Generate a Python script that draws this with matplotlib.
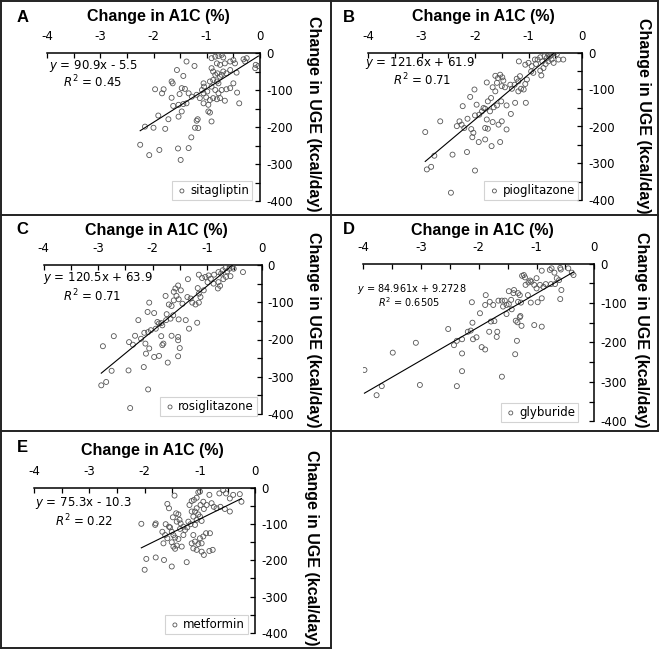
import numpy as np
import matplotlib.pyplot as plt
from matplotlib.lines import Line2D
from matplotlib.ticker import MultipleLocator

plt.rcParams["axes.unicode_minus"] = False
plt.rcParams["mathtext.fontset"] = "dejavusans"
plt.rcParams["font.family"] = "DejaVu Sans"

# =========================
# DATA
# =========================
sita_x = [-1.38, -1.23, -1.56, -1.44, -1.66, -1.64, -1.97, -1.81, -1.84, -1.47, -1.41, -1.51, -1.66,
          -1.34, -1.28, -1.19, -1.13, -1.06, -1.05, -1.09, -1.63, -1.53, -1.44, -1.38, -1.47, -1.53,
          -1.72, -1.91, -2.16, -2.00, -1.78, -2.25, -2.08, -1.89, -1.54, -1.34, -1.49, -1.29, -1.22,
          -1.16, -1.19, -1.17, -0.97, -0.94, -0.91, -0.97, -0.94, -1.06, -1.01, -0.88, -0.81, -0.75,
          -0.66, -0.78, -0.72, -0.63, -0.56, -0.50, -0.43, -0.39, -0.91, -0.84, -0.78, -0.72, -0.69,
          -0.81, -0.75, -0.66, -0.56, -0.50, -0.47, -0.31, -0.25, -0.28, -0.09, -0.08, -0.03, -0.91,
          -0.88, -0.84, -0.80, -0.75, -0.72, -0.69, -0.63, -0.56, -0.44, -0.88, -0.81, -0.78, -0.94,
          -0.91, -1.06, -0.99, -0.84]
sita_y = [-23, -35, -46, -62, -77, -82, -98, -98, -109, -95, -97, -111, -121,
          -109, -118, -113, -122, -82, -91, -100, -143, -140, -138, -136, -158, -172,
          -179, -169, -199, -202, -205, -248, -276, -262, -258, -257, -289, -228, -202,
          -203, -183, -179, -158, -161, -185, -140, -127, -136, -120, -122, -125, -122,
          -129, -109, -100, -98, -95, -82, -107, -136, -14, -10, -8, -5, -12,
          -28, -32, -28, -23, -19, -28, -17, -14, -23, -41, -32, -35, -41,
          -50, -59, -55, -64, -59, -50, -55, -46, -53, -73, -77, -82, -77,
          -91, -109, -104, -100]

pio_x = [-2.93, -2.65, -2.90, -2.82, -2.76, -2.42, -2.15, -2.00, -2.45, -2.23, -2.09, -2.01, -1.97,
         -1.78, -1.76, -1.67, -1.62, -1.70, -1.84, -2.34, -2.29, -2.25, -2.20, -2.14, -2.07, -2.03,
         -2.05, -1.93, -1.81, -1.81, -1.76, -1.78, -1.67, -1.56, -1.50, -1.41, -1.53, -1.69, -2.00,
         -1.92, -1.87, -1.81, -1.72, -1.65, -1.59, -1.51, -1.41, -1.33, -1.25, -1.05, -1.62, -1.57,
         -1.53, -1.49, -1.47, -1.59, -1.50, -1.44, -1.34, -1.31, -1.26, -1.19, -1.14, -1.09, -1.22,
         -1.16, -1.19, -1.06, -1.03, -1.18, -1.06, -1.00, -0.94, -0.86, -0.95, -0.91, -0.78, -0.76,
         -0.72, -0.68, -0.63, -0.74, -0.83, -0.66, -0.60, -0.57, -0.52, -0.47, -0.64, -0.70, -0.78,
         -0.88, -0.44, -0.35, -0.57, -0.53]
pio_y = [-215, -186, -316, -309, -279, -276, -269, -319, -379, -145, -120, -100, -141,
         -81, -132, -94, -105, -123, -150, -199, -186, -195, -204, -179, -207, -217,
         -229, -242, -235, -204, -206, -181, -188, -195, -186, -208, -242, -253, -170,
         -168, -159, -152, -159, -148, -143, -132, -143, -166, -136, -136, -63, -69,
         -60, -67, -76, -82, -91, -94, -87, -98, -87, -105, -98, -100, -71,
         -64, -78, -85, -73, -24, -33, -28, -37, -31, -51, -55, -49, -62,
         -42, -31, -24, -24, -19, -15, -10, -6, -1, -4, -4, -10, -13,
         -19, -19, -19, -19, -28]

rosi_x = [-2.91, -2.71, -2.94, -2.85, -2.75, -2.44, -2.16, -2.08, -2.41, -2.26, -2.09, -2.06, -1.97,
          -1.76, -1.74, -1.70, -1.65, -1.84, -1.91, -2.43, -2.36, -2.32, -2.21, -2.15, -2.13, -2.06,
          -2.12, -1.97, -1.88, -1.80, -1.82, -1.84, -1.65, -1.53, -1.53, -1.50, -1.53, -1.72, -2.08,
          -2.03, -1.94, -1.88, -1.82, -1.75, -1.67, -1.62, -1.52, -1.39, -1.33, -1.18, -1.61, -1.58,
          -1.53, -1.48, -1.56, -1.52, -1.61, -1.45, -1.36, -1.30, -1.27, -1.21, -1.15, -1.15, -1.17,
          -1.12, -1.06, -1.35, -1.15, -1.09, -1.03, -0.99, -0.93, -0.88, -0.79, -0.80, -0.76, -0.70,
          -0.65, -0.87, -0.79, -0.71, -0.63, -0.59, -0.54, -0.51, -0.66, -0.74, -0.57, -0.34, -0.97]
rosi_y = [-218, -191, -323, -314, -284, -283, -274, -334, -384, -148, -126, -101, -129,
          -83, -132, -106, -110, -156, -153, -207, -214, -190, -198, -182, -211, -224,
          -238, -247, -244, -211, -215, -191, -190, -193, -202, -223, -245, -262, -180,
          -175, -171, -157, -162, -148, -144, -135, -146, -148, -171, -155, -72, -63,
          -55, -68, -83, -92, -95, -104, -86, -90, -101, -106, -101, -77, -62,
          -86, -68, -38, -26, -35, -32, -46, -37, -50, -46, -63, -56, -38,
          -32, -26, -19, -14, -17, -10, -5, -10, -8, -23, -30, -19, -28]

gly_x = [-3.98, -3.68, -3.77, -3.49, -3.09, -3.02, -2.53, -2.38, -2.29, -2.29, -1.60, -1.37, -2.43,
         -2.38, -2.29, -2.19, -2.14, -2.10, -2.04, -2.11, -1.98, -1.95, -1.89, -2.12, -1.88, -1.89,
         -1.81, -1.79, -1.73, -1.82, -1.69, -1.68, -1.75, -1.66, -1.60, -1.55, -1.58, -1.52, -1.48,
         -1.43, -1.52, -1.48, -1.44, -1.40, -1.39, -1.32, -1.29, -1.32, -1.27, -1.36, -1.33, -1.29,
         -1.28, -1.26, -1.34, -1.25, -1.22, -1.20, -1.19, -1.14, -1.11, -1.09, -1.04, -1.00, -1.15,
         -1.10, -0.98, -0.91, -1.04, -0.91, -0.91, -0.77, -0.69, -0.65, -0.61, -0.58, -0.57, -0.59,
         -0.68, -0.75, -0.84, -0.88, -0.94, -1.00, -0.39, -0.36, -0.59, -0.74, -0.45]
gly_y = [-270, -311, -334, -226, -201, -308, -166, -311, -273, -228, -287, -230, -207,
         -196, -192, -173, -170, -192, -187, -150, -126, -212, -218, -98, -80, -105,
         -97, -147, -146, -173, -186, -173, -105, -94, -94, -94, -109, -105, -103,
         -116, -128, -70, -92, -75, -67, -75, -80, -97, -99, -145, -149, -136,
         -133, -158, -196, -31, -29, -35, -54, -48, -43, -46, -54, -63, -80,
         -99, -98, -88, -156, -160, -18, -16, -23, -37, -42, -15, -67, -90,
         -52, -52, -52, -59, -54, -37, -23, -29, -11, -12, -12]

met_x = [-2.06, -1.81, -1.80, -1.97, -1.80, -1.65, -2.00, -1.51, -1.24, -1.46, -1.59, -1.56, -1.49,
         -1.54, -1.62, -1.56, -1.43, -1.39, -1.37, -1.35, -1.42, -1.68, -1.63, -1.59, -1.66, -1.51,
         -1.48, -1.45, -1.39, -1.51, -1.48, -1.45, -1.42, -1.33, -1.30, -1.27, -1.23, -1.30, -1.36,
         -1.19, -1.15, -1.11, -1.06, -1.03, -1.00, -1.06, -1.09, -1.03, -1.15, -1.12, -1.06, -1.00,
         -0.97, -1.09, -1.17, -1.21, -0.99, -0.94, -0.93, -0.88, -0.83, -0.79, -0.75, -0.70, -0.63,
         -0.55, -0.46, -0.46, -0.53, -0.65, -0.58, -0.40, -0.28, -0.25, -1.12, -1.09, -1.12, -1.06,
         -0.97, -0.93, -0.97, -0.94, -0.89, -0.82, -0.83, -0.77, -1.00, -1.03, -1.15]
met_y = [-99, -102, -98, -196, -192, -199, -226, -217, -205, -21, -44, -56, -81,
         -109, -100, -107, -70, -73, -88, -98, -93, -121, -130, -139, -153, -121,
         -130, -137, -141, -150, -162, -168, -159, -162, -130, -116, -109, -107, -113,
         -47, -36, -33, -27, -12, -10, -56, -65, -73, -65, -79, -88, -79,
         -91, -102, -100, -93, -47, -38, -58, -47, -19, -42, -52, -56, -52,
         -58, -65, -29, -15, -15, -6, -19, -17, -38, -130, -148, -167, -171,
         -176, -185, -153, -134, -125, -125, -174, -171, -139, -155, -153]

drugs = ["sitagliptin", "pioglitazone", "rosiglitazone", "glyburide", "metformin"]
letters = ["A", "B", "C", "D", "E"]
slopes = [90.9, 121.6, 120.5, 84.961, 75.3]
intercepts = [-5.5, 61.9, 63.9, 9.2728, -10.3]
eq_labels = ["$y$ = 90.9x - 5.5", "$y$ = 121.6x + 61.9", "$y$ = 120.5x + 63.9",
             "$y$ = 84.961x + 9.2728", "$y$ = 75.3x - 10.3"]
r2_labels = ["$R^2$ = 0.45", "$R^2$ = 0.71", "$R^2$ = 0.71", "$R^2$ = 0.6505", "$R^2$ = 0.22"]
x_ticks = [-4, -3, -2, -1, 0]
y_ticks = [0, -100, -200, -300, -400]

all_x = [sita_x, pio_x, rosi_x, gly_x, met_x]
all_y = [sita_y, pio_y, rosi_y, gly_y, met_y]

# =========================
# LAYOUT (pixels)
# =========================
W, H = 660, 652
# axes box: left(x=-4), right(x=0), top(y=0), bottom(y=-400)
boxes = [(47, 260, 53, 201), (368, 582, 52.5, 200.5), (43.5, 261.5, 265, 414),
         (363.3, 594.3, 263.6, 421.2), (34, 255.3, 488, 632.7)]
title_pos = [(158, 17), (483, 17), (156, 230), (482, 230), (152.5, 450)]
ylab_pos = [(313, 114), (643, 116), (313, 330), (642, 330), (312, 548)]
letter_pos = [(23, 17), (349, 17), (22, 230), (349, 230), (22, 448)]
eq_pos = [(49, 66), (365, 63), (43, 278), (357, 289), (35, 503)]
r2_pos = [(63, 82), (393, 80), (63, 296), (378, 302), (55, 521)]
eq_size = [8.5, 8.5, 8.5, 7, 8.5]
leg_pos = [(252, 200), (578, 200), (257, 416), (578, 422), (248, 634)]

fig = plt.figure(figsize=(W / 100, H / 100), dpi=100)


def fx(px):
    return px / W


def fy(py):
    return 1 - py / H


for i in range(5):
    l, r, t, b = boxes[i]
    ax = fig.add_axes([fx(l), fy(b), (r - l) / W, (b - t) / H])
    x = np.array(all_x[i])
    y = np.array(all_y[i])

    ax.scatter(x, y, s=13, facecolors="none", edgecolors="#555555", linewidths=0.6,
               label=drugs[i], zorder=3)
    xl = np.array([x.min(), x.max()])
    ax.plot(xl, slopes[i] * xl + intercepts[i], color="black", lw=0.8, zorder=4)

    ax.set_xlim(-4, 0)
    ax.set_ylim(-400, 0)
    ax.spines["left"].set_visible(False)
    ax.spines["bottom"].set_visible(False)
    ax.spines["top"].set_linewidth(1.1)
    ax.spines["right"].set_linewidth(1.1)
    ax.xaxis.tick_top()
    ax.yaxis.tick_right()
    ax.set_xticks(x_ticks)
    ax.set_yticks(y_ticks)
    ax.xaxis.set_minor_locator(MultipleLocator(0.5))
    ax.yaxis.set_minor_locator(MultipleLocator(50))
    ax.tick_params(axis="x", which="both", direction="in", length=3.5, width=0.9,
                   labelsize=8.5, pad=7)
    ax.tick_params(axis="y", which="both", direction="in", length=3.5, width=0.9,
                   labelsize=8.5, pad=4.5)
    ax.patch.set_alpha(0)

    lx, ly = leg_pos[i]
    leg = ax.legend(loc="lower right", bbox_to_anchor=((lx - l) / (r - l), (b - ly) / (b - t)),
                    borderaxespad=0, frameon=True, fancybox=False, fontsize=8.5,
                    borderpad=0.25, handletextpad=0.1, handlelength=1.2, markerscale=0.8)
    leg.get_frame().set_edgecolor("#c8c8c8")
    leg.get_frame().set_linewidth(0.8)

    fig.text(fx(eq_pos[i][0]), fy(eq_pos[i][1]), eq_labels[i], fontsize=eq_size[i],
             ha="left", va="center")
    fig.text(fx(r2_pos[i][0]), fy(r2_pos[i][1]), r2_labels[i], fontsize=eq_size[i],
             ha="left", va="center")

    fig.text(fx(title_pos[i][0]), fy(title_pos[i][1]), "Change in A1C (%)",
             family="Liberation Sans", weight="bold", fontsize=11.5, ha="center", va="center")
    fig.text(fx(ylab_pos[i][0]), fy(ylab_pos[i][1]), "Change in UGE (kcal/day)",
             family="Liberation Sans", weight="bold", fontsize=11.5, rotation=-90,
             ha="center", va="center")
    fig.text(fx(letter_pos[i][0]), fy(letter_pos[i][1]), letters[i],
             family="Liberation Sans", weight="bold", fontsize=12, ha="center", va="center")

# panel borders
border = dict(color="#222222", lw=1.4, transform=fig.transFigure)
fig.add_artist(Line2D([fx(1), fx(658)], [fy(1), fy(1)], **border))
fig.add_artist(Line2D([fx(1), fx(658)], [fy(215), fy(215)], **border))
fig.add_artist(Line2D([fx(1), fx(658)], [fy(431), fy(431)], **border))
fig.add_artist(Line2D([fx(1), fx(331)], [fy(648), fy(648)], **border))
fig.add_artist(Line2D([fx(1), fx(1)], [fy(1), fy(648)], **border))
fig.add_artist(Line2D([fx(331), fx(331)], [fy(1), fy(648)], **border))
fig.add_artist(Line2D([fx(658), fx(658)], [fy(1), fy(431)], **border))

fig.savefig("out.png", dpi=100)
